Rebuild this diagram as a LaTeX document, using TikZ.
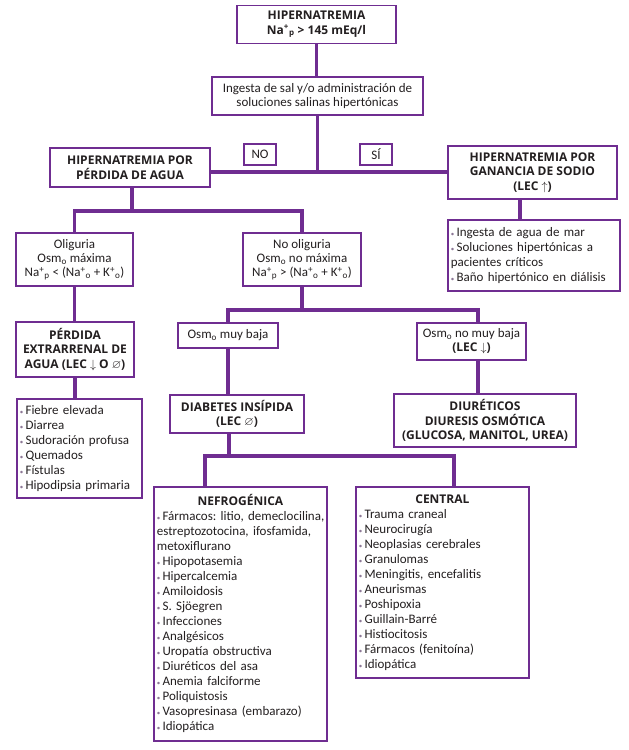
\documentclass[tikz,border=0pt]{standalone}
\usepackage{fontspec}
\setmainfont{Carlito}
\newfontfamily\negrita{Open Sans}
\usepackage{amssymb}
\usetikzlibrary{positioning}
\definecolor{morado}{RGB}{111,45,145}
\definecolor{texto}{RGB}{35,31,32}
\definecolor{punto}{RGB}{140,120,150}
\frenchspacing
\newcommand{\vin}{{\color{punto}\scriptsize\textbullet}\,}
\newcommand{\Nap}{Na\textsuperscript{+}\textsubscript{p}}
\newcommand{\Nao}{Na\textsuperscript{+}\textsubscript{o}}
\newcommand{\Ko}{K\textsuperscript{+}\textsubscript{o}}
\newcommand{\Osm}{Osm\textsubscript{o}}
\newcommand{\negr}{\negrita\bfseries\fontsize{12}{14}\selectfont}
\begin{document}
\begin{tikzpicture}[x=1pt,y=-1pt,
  caja/.style={draw=morado,line width=1.8pt,fill=white,text=texto,align=center,
    inner sep=1pt,font=\fontsize{13}{14}\selectfont},
  titulo/.style={caja,font=\negrita\bfseries\fontsize{12}{14.5}\selectfont},
  lista/.style={caja,align=left,anchor=north west,inner xsep=3pt,inner ysep=2pt,
    font=\fontsize{13}{15}\selectfont},
  enlace/.style={draw=morado,line width=3.5pt}]
\fill[white] (0,0) rectangle (629,750);
%
\node[titulo,minimum width=159,minimum height=38] (hip) at (316.5,24.5)
  {HIPERNATREMIA\\\Nap{} > 145 mEq/l};
\node[caja,minimum width=211,minimum height=38] (ing) at (317.5,96)
  {Ingesta de sal y/o administración de\\soluciones salinas hipertónicas};
\node[caja,minimum width=32,minimum height=21] (no) at (260,154.5) {NO};
\node[caja,minimum width=32,minimum height=21] (si) at (376,154.5) {SÍ};
\node[titulo,minimum width=160,minimum height=39] (perd) at (130,167.5)
  {HIPERNATREMIA POR\\PÉRDIDA DE AGUA};
\node[titulo,minimum width=169,minimum height=53] (gan) at (532.5,172.5)
  {HIPERNATREMIA POR\\GANANCIA DE SODIO\\(LEC $\uparrow$)};
\node[lista,text width=166,minimum height=71] (ganlista) at (447,219)
  {\vin Ingesta de agua de mar\\\vin Soluciones hipertónicas a\\pacientes críticos\\\vin Baño hipertónico en diálisis};
%
\node[caja,minimum width=117,minimum height=53] (olig) at (74.5,259.5)
  {Oliguria\\\Osm{} máxima\\\Nap{} < (\Nao{} + \Ko)};
\node[caja,minimum width=118,minimum height=53] (noolig) at (302,259.5)
  {No oliguria\\\Osm{} no máxima\\\Nap{} > (\Nao{} + \Ko)};
\node[titulo,minimum width=118,minimum height=55] (extra) at (75,349.5)
  {PÉRDIDA\\EXTRARRENAL DE\\AGUA (LEC $\downarrow$ O $\varnothing$)};
\node[lista,text width=119,minimum height=99] (extralista) at (16,398)
  {\vin Fiebre elevada\\\vin Diarrea\\\vin Sudoración profusa\\\vin Quemados\\\vin Fístulas\\\vin Hipodipsia primaria};
%
\node[caja,minimum width=100,minimum height=25] (muybaja) at (228,335.5) {\Osm{} muy baja};
\node[caja,minimum width=109,minimum height=37] (nomuybaja) at (471.5,341.5)
  {\Osm{} no muy baja\\{\negr (LEC $\downarrow$)}};
\node[titulo,minimum width=134,minimum height=38] (di) at (237,414)
  {DIABETES INSÍPIDA\\(LEC $\varnothing$)};
\node[titulo,minimum width=182,minimum height=53] (diur) at (485,420.5)
  {DIURÉTICOS\\DIURESIS OSMÓTICA\\(GLUCOSA, MANITOL, UREA)};
%
\node[lista,text width=167,minimum height=254] (nefro) at (153,486)
  {\makebox[\linewidth]{\negr NEFROGÉNICA}\\
   \mbox{\vin Fármacos: litio, demeclocilina,}\\estreptozotocina, ifosfamida,\\metoxiflurano\\
   \vin Hipopotasemia\\\vin Hipercalcemia\\\vin Amiloidosis\\\vin S. Sjöegren\\
   \vin Infecciones\\\vin Analgésicos\\\vin Uropatía obstructiva\\\vin Diuréticos del asa\\
   \vin Anemia falciforme\\\vin Poliquistosis\\\vin Vasopresinasa (embarazo)\\\vin Idiopática};
\node[lista,text width=167,minimum height=191] (central) at (355,486)
  {\makebox[\linewidth]{\negr CENTRAL}\\
   \vin Trauma craneal\\\vin Neurocirugía\\\vin Neoplasias cerebrales\\\vin Granulomas\\
   \vin Meningitis, encefalitis\\\vin Aneurismas\\\vin Poshipoxia\\\vin Guillain-Barré\\
   \vin Histiocitosis\\\vin Fármacos (fenitoína)\\\vin Idiopática};
%
\coordinate (c1) at (317,172);
\coordinate (c2) at (520,0);
\coordinate (c3) at (132,211);
\coordinate (c4) at (302,310);
\coordinate (c5) at (478,310);
\coordinate (c6) at (229,456);
\coordinate (c7) at (205,456);
\coordinate (c8) at (454,456);
%
\draw[enlace] (hip.south) -- (hip.south |- ing.north);
\draw[enlace] (ing.south) -- (ing.south |- c1);
\draw[enlace] (perd.east |- c1) -- (gan.west |- c1);
\draw[enlace] (c2 |- gan.south) -- (c2 |- ganlista.north);
\draw[enlace] (c3 |- perd.south) -- (c3);
\draw[enlace] (olig.north) |- (noolig.north |- c3) -- (noolig.north);
\draw[enlace] (olig.south) -- (olig.south |- extra.north);
\draw[enlace] (extra.south) -- (extra.south |- extralista.north);
\draw[enlace] (noolig.south) -- (noolig.south |- c4);
\draw[enlace] (muybaja.north) |- (c5) -- (c5 |- nomuybaja.north);
\draw[enlace] (c5 |- nomuybaja.south) -- (c5 |- diur.north);
\draw[enlace] (muybaja.south) -- (muybaja.south |- di.north);
\draw[enlace] (c6 |- di.south) -- (c6);
\draw[enlace] (c7 |- nefro.north) -- (c7) -- (c8) -- (c8 |- central.north);
%
\end{tikzpicture}
\end{document}
